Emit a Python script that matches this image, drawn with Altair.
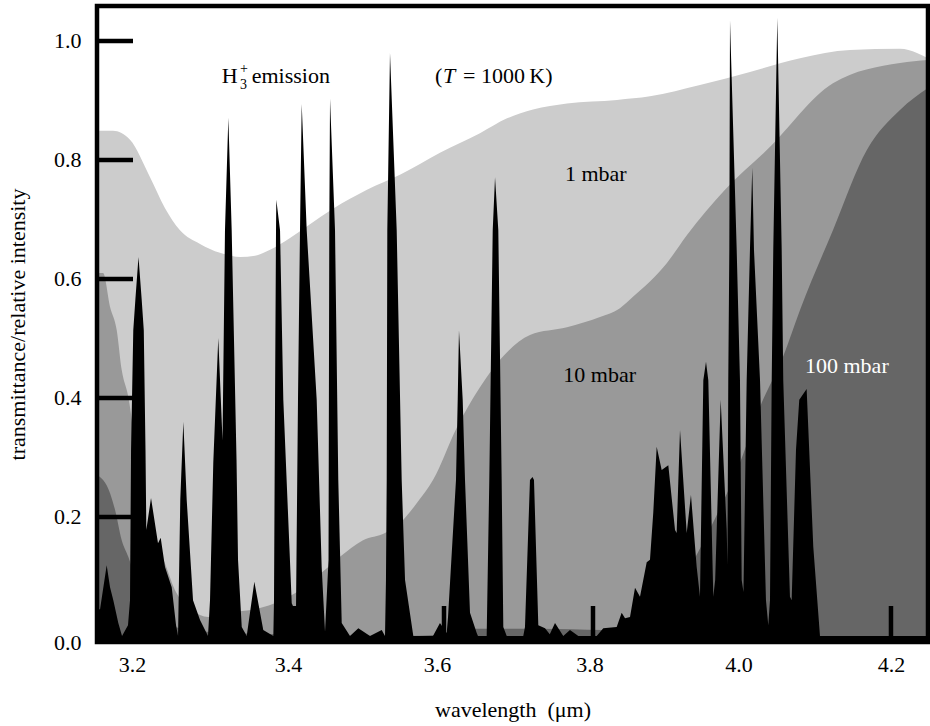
import altair as alt
import pandas as pd

# ---------------- data ----------------
XMIN, XMAX = 3.1342, 4.2497
YMIN, YMAX = -0.0101, 1.0588
W, H = 831, 636

# 1 mbar transmittance
WL_1 = [3.1342, 3.1557, 3.1785, 3.2054, 3.2255, 3.2456, 3.2725, 3.2993, 3.3262, 3.3463,
        3.3665, 3.3933, 3.4201, 3.4510, 3.4966, 3.5409, 3.5946, 3.6483,
        3.6846, 3.7195, 3.7651, 3.8322, 3.8765, 3.9436, 4.0107, 4.0779, 4.1450, 4.2121,
        4.2349, 4.2497]
T_1 = [0.849, 0.849, 0.834, 0.771, 0.719, 0.682, 0.659, 0.644, 0.637, 0.639,
       0.649, 0.669, 0.692, 0.718, 0.750, 0.775, 0.812, 0.845,
       0.870, 0.885, 0.895, 0.901, 0.907, 0.926, 0.948, 0.971, 0.985, 0.987,
       0.980, 0.971]

# 10 mbar transmittance
WL_10 = [3.1342, 3.1423, 3.1517, 3.1607, 3.1674, 3.1762, 3.1893, 3.2013, 3.2121, 3.2232,
         3.2389, 3.2613, 3.2836, 3.3105, 3.3530, 3.4000, 3.4447, 3.4604, 3.4913, 3.5208,
         3.5450, 3.5638, 3.5852, 3.6174, 3.6483, 3.6846, 3.7154, 3.7651, 3.8094, 3.8362,
         3.8537, 3.8993, 3.9262, 3.9772, 4.0336, 4.1221, 4.2121, 4.2497]
T_10 = [0.610, 0.610, 0.553, 0.514, 0.447, 0.402, 0.280, 0.175, 0.150, 0.128,
        0.077, 0.044, 0.032, 0.039, 0.047, 0.072, 0.116, 0.133, 0.161, 0.173,
        0.195, 0.224, 0.262, 0.351, 0.418, 0.477, 0.506, 0.519, 0.536, 0.551,
        0.570, 0.627, 0.674, 0.750, 0.817, 0.929, 0.963, 0.968]

# 100 mbar transmittance
WL_100 = [3.1342, 3.1517, 3.1584, 3.1674, 3.1762, 3.1920, 3.2188, 3.2725, 3.4067, 3.5409,
          3.5946, 3.6416, 3.7289, 3.8134, 3.8631, 3.9168, 3.9570, 3.9973, 4.0242, 4.0550,
          4.0779, 4.1221, 4.1678, 4.2121, 4.2497]
T_100 = [0.271, 0.240, 0.212, 0.161, 0.133, 0.070, 0.025, 0.008, 0.002, 0.000,
         0.002, 0.012, 0.012, 0.010, 0.030, 0.090, 0.180, 0.291, 0.385, 0.469,
         0.548, 0.682, 0.817, 0.884, 0.921]

# H3+ emission spectrum (relative intensity), outline vertices
WL_EM = [3.1342, 3.1383, 3.1472, 3.1517, 3.1561, 3.1628, 3.1678, 3.1758, 3.1785, 3.1799,
         3.1829, 3.1857, 3.1899, 3.1942, 3.1970, 3.1993, 3.2004, 3.2067, 3.2161, 3.2197,
         3.2255, 3.2345, 3.2403, 3.2430, 3.2460, 3.2501, 3.2546, 3.2631, 3.2725, 3.2832,
         3.2859, 3.2903, 3.2970, 3.3027, 3.3060, 3.3105, 3.3150, 3.3215, 3.3235, 3.3285,
         3.3352, 3.3454, 3.3574, 3.3709, 3.3718, 3.3732, 3.3745, 3.3749, 3.3799, 3.3843,
         3.3956, 3.4013, 3.4040, 3.4067, 3.4090, 3.4157, 3.4291, 3.4358, 3.4403, 3.4450,
         3.4460, 3.4470, 3.4537, 3.4581, 3.4627, 3.4738, 3.4850, 3.5007, 3.5164, 3.5208,
         3.5221, 3.5231, 3.5239, 3.5275, 3.5365, 3.5432, 3.5477, 3.5588, 3.5852, 3.5946,
         3.6036, 3.6054, 3.6161, 3.6184, 3.6201, 3.6251, 3.6282, 3.6349, 3.6439, 3.6456,
         3.6573, 3.6608, 3.6654, 3.6685, 3.6729, 3.6774, 3.6796, 3.6842, 3.7064, 3.7087,
         3.7154, 3.7188, 3.7208, 3.7266, 3.7356, 3.7420, 3.7490, 3.7601, 3.7691, 3.7803,
         3.8050, 3.8138, 3.8318, 3.8385, 3.8430, 3.8497, 3.8564, 3.8631, 3.8721, 3.8765,
         3.8809, 3.8855, 3.8922, 3.9011, 3.9101, 3.9123, 3.9168, 3.9258, 3.9315, 3.9392,
         3.9436, 3.9481, 3.9517, 3.9548, 3.9615, 3.9640, 3.9714, 3.9795, 3.9805, 3.9816,
         3.9830, 3.9839, 3.9929, 3.9973, 3.9996, 4.0020, 4.0063, 4.0107, 4.0138, 4.0161,
         4.0242, 4.0322, 4.0353, 4.0376, 4.0399, 4.0420, 4.0474, 4.0533, 4.0554, 4.0644,
         4.0667, 4.0725, 4.0769, 4.0868, 4.0957, 4.1047, 4.2497]
I_EM = [0.044, 0.045, 0.119, 0.082, 0.060, 0.022, 0.000, 0.018, 0.060, 0.313,
        0.514, 0.565, 0.637, 0.565, 0.514, 0.313, 0.178, 0.232, 0.156, 0.165,
        0.116, 0.082, 0.018, 0.000, 0.229, 0.360, 0.229, 0.060, 0.027, 0.000,
        0.060, 0.291, 0.501, 0.329, 0.682, 0.871, 0.682, 0.296, 0.128, 0.015,
        0.000, 0.091, 0.010, 0.000, 0.060, 0.397, 0.682, 0.733, 0.682, 0.397,
        0.055, 0.039, 0.397, 0.682, 0.894, 0.682, 0.397, 0.116, 0.007, 0.128,
        0.682, 0.903, 0.682, 0.262, 0.022, 0.000, 0.013, 0.000, 0.010, 0.000,
        0.094, 0.262, 0.682, 0.980, 0.682, 0.262, 0.094, 0.000, 0.000, 0.022,
        0.005, 0.032, 0.262, 0.397, 0.514, 0.397, 0.262, 0.039, 0.005, 0.000,
        0.000, 0.262, 0.682, 0.771, 0.682, 0.262, 0.015, 0.000, 0.000, 0.015,
        0.262, 0.267, 0.262, 0.018, 0.013, 0.003, 0.022, 0.000, 0.010, 0.000,
        0.000, 0.013, 0.015, 0.039, 0.030, 0.032, 0.081, 0.066, 0.124, 0.128,
        0.207, 0.318, 0.279, 0.287, 0.178, 0.173, 0.346, 0.173, 0.237, 0.116,
        0.066, 0.430, 0.461, 0.430, 0.066, 0.094, 0.397, 0.178, 0.119, 0.430,
        0.649, 1.035, 0.649, 0.430, 0.094, 0.074, 0.430, 0.649, 0.787, 0.649,
        0.430, 0.060, 0.018, 0.060, 0.430, 0.649, 1.039, 0.649, 0.430, 0.066,
        0.060, 0.313, 0.397, 0.415, 0.150, 0.000, 0.000]

X_TICKS = [3.2, 3.4, 3.6, 3.8, 4.0, 4.2]
Y_TICKS = [0.2, 0.4, 0.6, 0.8, 1.0]
Y_LABEL_VALUES = [YMIN, 0.2, 0.4, 0.6, 0.8, 1.0]

LABEL_TEXT = ["H", "emission", "(", "= 1000\u2009K)", "1 mbar", "10 mbar", "100 mbar"]
LABEL_WL = [3.3016, 3.3419, 3.5879, 3.6255, 3.7624, 3.7601, 4.0846]
LABEL_V = [0.929, 0.929, 0.929, 0.929, 0.765, 0.427, 0.4415]
LABEL_COLOR = ["black", "black", "black", "black", "black", "black", "white"]

SCRIPT_TEXT = ["3", "+"]
SCRIPT_WL = [3.3262, 3.3262]
SCRIPT_V = [0.9185, 0.946]

ITALIC_TEXT = ["T"]
ITALIC_WL = [3.5987]
ITALIC_V = [0.929]

FONT = "Liberation Serif"

# ---------------- chart ----------------
xs = alt.Scale(domain=[XMIN, XMAX], nice=False, zero=False)
ys = alt.Scale(domain=[YMIN, YMAX], nice=False, zero=False)

x_axis = alt.Axis(
    values=X_TICKS, format=".1f", ticks=False, domain=False, grid=False,
    labelPadding=12,
    labelOffset={"condition": [
        {"test": "datum.value < 3.3", "value": -14},
        {"test": "datum.value < 3.7", "value": -7},
        {"test": "datum.value < 4.1", "value": -3.5}], "value": 0},
    title="wavelength\u2002(\u03bcm)", titlePadding=24,
)
y_axis = alt.Axis(
    values=Y_LABEL_VALUES, ticks=False, domain=False, grid=False,
    labelExpr="datum.value < 0.1 ? '0.0' : format(datum.value, '.1f')",
    labelPadding=16, title="transmittance/relative intensity", titlePadding=24,
)

df1 = pd.DataFrame({"wl": WL_1, "t": T_1})
df10 = pd.DataFrame({"wl": WL_10, "t": T_10})
df100 = pd.DataFrame({"wl": WL_100, "t": T_100})
dfem = pd.DataFrame({"wl": WL_EM, "t": I_EM})

area1 = alt.Chart(df1).mark_area(color="#cccccc", interpolate="monotone").encode(
    x=alt.X("wl:Q", scale=xs, axis=x_axis),
    y=alt.Y("t:Q", scale=ys, axis=y_axis),
    y2=alt.datum(YMIN),
)
area10 = alt.Chart(df10).mark_area(color="#999999", interpolate="monotone").encode(
    x=alt.X("wl:Q", scale=xs),
    y=alt.Y("t:Q", scale=ys),
    y2=alt.datum(YMIN),
)
area100 = alt.Chart(df100).mark_area(color="#666666", interpolate="monotone").encode(
    x=alt.X("wl:Q", scale=xs),
    y=alt.Y("t:Q", scale=ys),
    y2=alt.datum(YMIN),
)
emission = alt.Chart(dfem).mark_area(color="black", interpolate="linear").encode(
    x=alt.X("wl:Q", scale=xs),
    y=alt.Y("t:Q", scale=ys),
    y2=alt.datum(YMIN),
)

yticks = alt.Chart(pd.DataFrame({"wl": [XMIN] * len(Y_TICKS), "t": Y_TICKS})).mark_rule(
    color="black", strokeWidth=4.5
).encode(
    y=alt.Y("t:Q", scale=ys),
    x=alt.value(0),
    x2=alt.value(36),
)
xticks = alt.Chart(pd.DataFrame({"wl": X_TICKS})).mark_rule(color="black", strokeWidth=4.5).encode(
    x=alt.X("wl:Q", scale=xs),
    y=alt.value(H),
    y2=alt.value(H - 36),
)
frame = alt.Chart(pd.DataFrame({"wl": [XMIN], "wl2": [XMAX], "t": [YMIN], "t2": [YMAX]})).mark_rect(
    fillOpacity=0, stroke="black", strokeWidth=4.5
).encode(
    x=alt.X("wl:Q", scale=xs), x2="wl2:Q", y=alt.Y("t:Q", scale=ys), y2="t2:Q"
)

labels = alt.Chart(pd.DataFrame({"wl": LABEL_WL, "t": LABEL_V, "txt": LABEL_TEXT, "c": LABEL_COLOR})).mark_text(
    font=FONT, fontSize=22, align="left", baseline="alphabetic"
).encode(
    x=alt.X("wl:Q", scale=xs),
    y=alt.Y("t:Q", scale=ys),
    text="txt:N",
    color=alt.Color("c:N", scale=None),
)
scripts = alt.Chart(pd.DataFrame({"wl": SCRIPT_WL, "t": SCRIPT_V, "txt": SCRIPT_TEXT})).mark_text(
    font=FONT, fontSize=14, align="left", baseline="alphabetic", color="black"
).encode(
    x=alt.X("wl:Q", scale=xs),
    y=alt.Y("t:Q", scale=ys),
    text="txt:N",
)
italic = alt.Chart(pd.DataFrame({"wl": ITALIC_WL, "t": ITALIC_V, "txt": ITALIC_TEXT})).mark_text(
    font=FONT, fontSize=22, fontStyle="italic", align="left", baseline="alphabetic", color="black"
).encode(
    x=alt.X("wl:Q", scale=xs),
    y=alt.Y("t:Q", scale=ys),
    text="txt:N",
)

chart = alt.layer(
    area1, area10, area100, emission, yticks, xticks, frame, labels, scripts, italic
).properties(
    width=W, height=H,
    autosize=alt.AutoSizeParams(type="none"),
    padding={"left": 97, "top": 6, "right": 2, "bottom": 84},
    background="white",
).configure_view(
    strokeWidth=0
).configure_axis(
    labelFont=FONT, labelFontSize=22, labelColor="black",
    titleFont=FONT, titleFontSize=22, titleFontWeight="normal", titleColor="black",
)

chart.save("out.html", embed_options={"renderer": "svg", "actions": False})
